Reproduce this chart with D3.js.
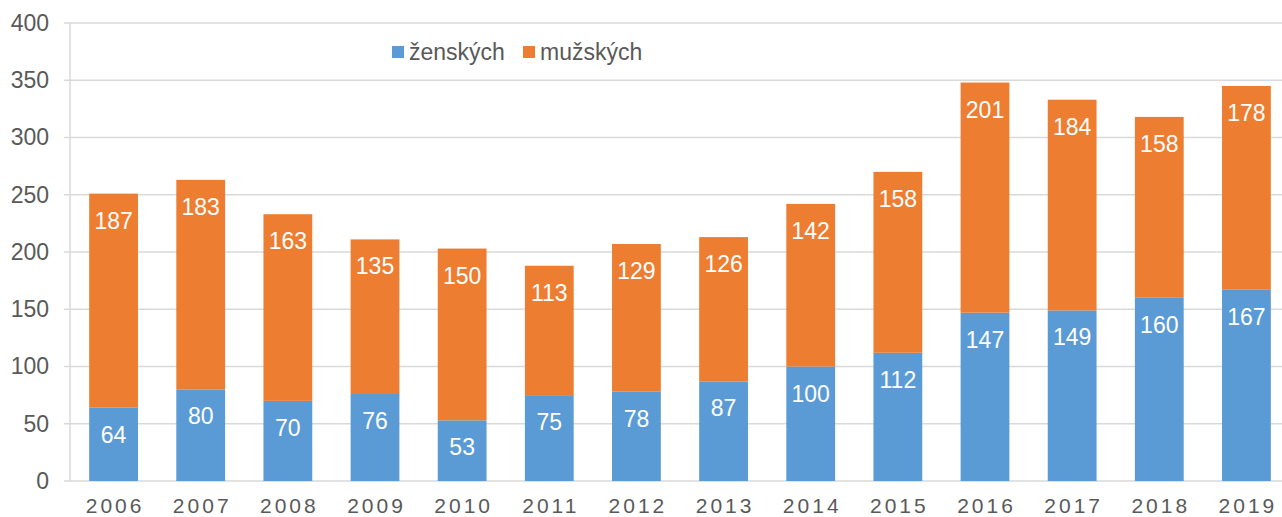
<!DOCTYPE html>
<html>
  <head>
    <meta charset="utf-8">
    <script type="text/javascript" src="https://cdn.jsdelivr.net/npm/d3@7/dist/d3.min.js"></script>
    <style>
      body { margin: 0; background: #fff; }
      text { font-family: "Liberation Sans", Arial, sans-serif; }
      .tick text { fill: #595959; font-size: 23px; }
      .xax .tick text { letter-spacing: 3px; font-size: 21px; }
      .lbl { fill: #fff; font-size: 23px; text-anchor: middle; }
      .legend text { fill: #595959; font-size: 23px; }
    </style>
  </head>
  <body>
    <div id="chart"></div>
  </body>
  <script>
  (function (d3) {
    'use strict';

    // data
    var years = ['2006','2007','2008','2009','2010','2011','2012','2013','2014','2015','2016','2017','2018','2019'];
    var zenskych = [64, 80, 70, 76, 53, 75, 78, 87, 100, 112, 147, 149, 160, 167];
    var muzskych = [187, 183, 163, 135, 150, 113, 129, 126, 142, 158, 201, 184, 158, 178];
    var seriesNames = ['ženských', 'mužských'];
    var yTicks = [0, 50, 100, 150, 200, 250, 300, 350, 400];

    var width = 1282, height = 517;
    var colors = ['#5b9bd5', '#ed7d31'];

    var svg = d3.select('#chart').append('svg')
      .attr('width', width)
      .attr('height', height);

    var x = d3.scaleBand()
      .domain(years)
      .range([70, 1290])
      .paddingInner(0.44)
      .paddingOuter(0.22);

    var y = d3.scaleLinear()
      .domain([0, 400])
      .range([481, 23]);

    // gridlines
    svg.append('g')
      .selectAll('line')
      .data(yTicks)
      .enter()
      .append('line')
      .attr('x1', 64)
      .attr('x2', width)
      .attr('y1', function (d) { return y(d); })
      .attr('y2', function (d) { return y(d); })
      .attr('stroke', '#d9d9d9')
      .attr('stroke-width', 1.5);

    // vertical axis line
    svg.append('line')
      .attr('x1', 70).attr('x2', 70)
      .attr('y1', y(400)).attr('y2', y(0))
      .attr('stroke', '#d9d9d9')
      .attr('stroke-width', 1.5);

    var yAxis = svg.append('g')
      .attr('transform', 'translate(64,0)')
      .call(d3.axisLeft(y).tickValues(yTicks).tickSize(0).tickPadding(15));
    yAxis.select('.domain').remove();

    var xAxis = svg.append('g')
      .attr('class', 'xax')
      .attr('transform', 'translate(0,' + y(0) + ')')
      .call(d3.axisBottom(x).tickSize(0).tickPadding(17));
    xAxis.select('.domain').remove();
    xAxis.selectAll('.tick text').attr('dx', '1.5px');

    // stacked bars
    var rows = years.map(function (yr, i) {
      return { year: yr, z: zenskych[i], m: muzskych[i] };
    });
    var stack = d3.stack().keys(['z', 'm']);
    var layers = stack(rows);

    var groups = svg.selectAll('.layer')
      .data(layers)
      .enter()
      .append('g')
      .attr('class', 'layer')
      .attr('fill', function (d, i) { return colors[i]; });

    groups.selectAll('rect')
      .data(function (d) { return d; })
      .enter()
      .append('rect')
      .attr('x', function (d) { return x(d.data.year); })
      .attr('width', x.bandwidth())
      .attr('y', function (d) { return y(d[1]); })
      .attr('height', function (d) { return y(d[0]) - y(d[1]); });

    groups.selectAll('text')
      .data(function (d) { return d; })
      .enter()
      .append('text')
      .attr('class', 'lbl')
      .attr('x', function (d) { return x(d.data.year) + x.bandwidth() / 2; })
      .attr('y', function (d) { return y(d[1]) + 35; })
      .text(function (d) { return d[1] - d[0]; });

    // legend
    var legendX = [392, 523];
    var legend = svg.selectAll('.legend')
      .data(seriesNames)
      .enter()
      .append('g')
      .attr('class', 'legend')
      .attr('transform', function (d, i) { return 'translate(' + legendX[i] + ',46)'; });

    legend.append('rect')
      .attr('width', 12)
      .attr('height', 12)
      .attr('fill', function (d, i) { return colors[i]; });

    legend.append('text')
      .attr('x', 17)
      .attr('y', 14)
      .text(function (d) { return d; });
  })(window.d3);
  </script>
</html>
